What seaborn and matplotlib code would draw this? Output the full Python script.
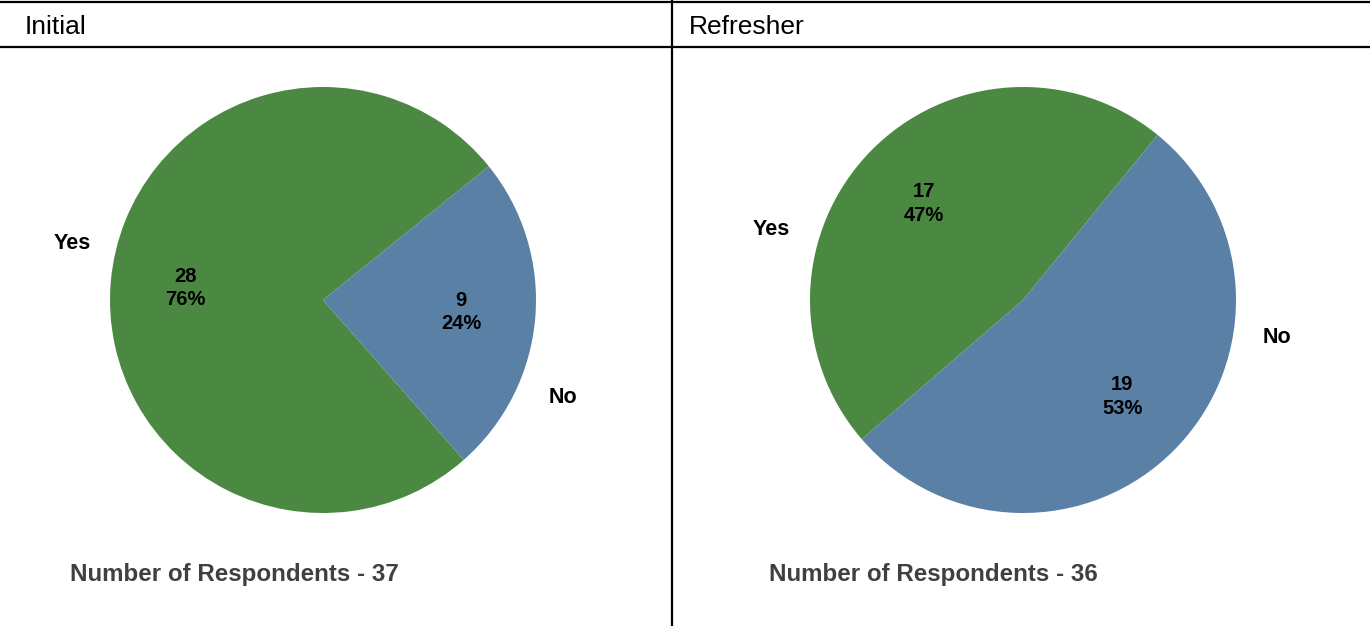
import matplotlib
matplotlib.use("Agg")
import matplotlib.pyplot as plt
from matplotlib.lines import Line2D
import seaborn as sns

# Survey answers per training type
panels = ["Initial", "Refresher"]
answers = ["Yes", "No"]
initial_counts = [28, 9]
refresher_counts = [17, 19]
respondents = [37, 36]

sns.set_theme(style="white")
plt.rcParams["font.family"] = ["Liberation Sans", "DejaVu Sans"]

colors = ["#4B8943", "#5B80A6"]

W, H = 1370, 626
fig = plt.figure(figsize=(W / 100, H / 100), dpi=100)

# pie layout (pixels): centre x, centre y, radius, start angle
pie_layout = [
    dict(cx=323, cy=300, r=213, start=38.9,
         label_xy={"Yes": (-1.178, 0.265), "No": (1.127, -0.460)},
         header_x=25, footer_x=70),
    dict(cx=1023, cy=300, r=213, start=50.8,
         label_xy={"Yes": (-1.183, 0.330), "No": (1.192, -0.178)},
         header_x=689, footer_x=769),
]

for title, counts, n, lay in zip(panels, [initial_counts, refresher_counts],
                                 respondents, pie_layout):
    r = lay["r"]
    ax = fig.add_axes([(lay["cx"] - r) / W, (H - lay["cy"] - r) / H,
                       2 * r / W, 2 * r / H])
    total = sum(counts)
    wedges, _, autotexts = ax.pie(
        counts, colors=colors, startangle=lay["start"], counterclock=True,
        wedgeprops=dict(linewidth=0),
        autopct=lambda p, t=total: f"{round(p * t / 100)}\n{p:.0f}%",
        pctdistance=0.65,
        textprops=dict(fontsize=14.5, fontweight="bold", color="black"),
    )
    for at in autotexts:
        at.set_linespacing(1.3)
    ax.set_xlim(-1, 1)
    ax.set_ylim(-1, 1)
    ax.set_aspect("equal")
    ax.axis("off")
    for name in answers:
        x, y = lay["label_xy"][name]
        ax.text(x, y, name, ha="center", va="center", fontsize=15.5,
                fontweight="bold", color="black")

    fig.text(lay["header_x"] / W, 1 - 27 / H, title, ha="left", va="center",
             fontsize=19, color="black")
    fig.text(lay["footer_x"] / W, 1 - 574 / H, f"Number of Respondents - {n}",
             ha="left", va="center", fontsize=17.4, fontweight="bold",
             color="#404040")

# table rules
lw = 1.6
fig.add_artist(Line2D([0, 1], [1 - 2 / H, 1 - 2 / H], color="black", lw=lw))
fig.add_artist(Line2D([0, 1], [1 - 47 / H, 1 - 47 / H], color="black", lw=lw))
fig.add_artist(Line2D([672 / W, 672 / W], [0, 1], color="black", lw=lw))

fig.savefig("out.png", dpi=100)
